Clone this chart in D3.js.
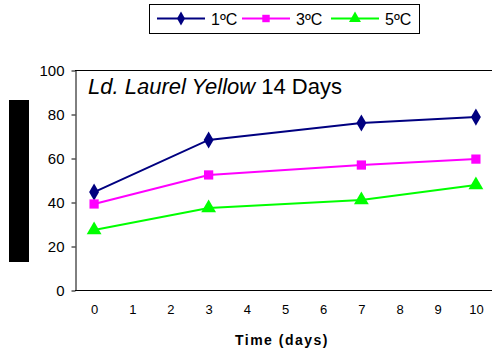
<!DOCTYPE html>
<html>
<head>
<meta charset="utf-8">
<script src="https://cdn.jsdelivr.net/npm/d3@7"></script>
<style>
  body { margin: 0; background: #fff; }
  text { font-family: Arial, "Liberation Sans", sans-serif; }
</style>
</head>
<body>
<div id="chart-area"></div>
<script>
// data
const days = [0, 3, 7, 10]
const tickDays = [0, 1, 2, 3, 4, 5, 6, 7, 8, 9, 10]
const yTicks = [0, 20, 40, 60, 80, 100]
const seriesNames = ["1ºC", "3ºC", "5ºC"]
const temp1 = [44.5, 68.2, 75.9, 78.6]
const temp3 = [39.1, 52.3, 56.8, 59.5]
const temp5 = [27.3, 37.3, 40.9, 47.7]

const colors = ["#000080", "#ff00ff", "#00ff00"]
const shapes = [d3.symbolDiamond, d3.symbolSquare, d3.symbolTriangle]
const sizes = [85, 85, 95]

const W = 492, H = 356
const plot = { left: 75, right: 495, top: 70, bottom: 290 }

const svg = d3.select("#chart-area")
	.append("svg")
		.attr("width", W)
		.attr("height", H)

const x = d3.scaleLinear()
	.domain([-0.5, 10.5])
	.range([plot.left, plot.right])

const y = d3.scaleLinear()
	.domain([0, 100])
	.range([plot.bottom, plot.top])

// frame lines (top, bottom)
svg.append("line")
	.attr("x1", plot.left).attr("x2", W)
	.attr("y1", plot.top + 0.5).attr("y2", plot.top + 0.5)
	.attr("stroke", "#000")
svg.append("line")
	.attr("x1", plot.left).attr("x2", W)
	.attr("y1", plot.bottom + 0.5).attr("y2", plot.bottom + 0.5)
	.attr("stroke", "#000")

// Y axis
const yAxisCall = d3.axisLeft(y)
	.tickValues(yTicks)
	.tickSize(4)
	.tickSizeOuter(0)
const yAxisGroup = svg.append("g")
	.attr("transform", `translate(${plot.left + 0.5}, 0.5)`)
	.call(yAxisCall)
yAxisGroup.selectAll("text")
	.attr("font-size", "15px")
	.attr("fill", "#000")
	.attr("x", -11)
	.attr("font-family", "Arial, 'Liberation Sans', sans-serif")

// X axis (labels only)
const xAxisCall = d3.axisBottom(x)
	.tickValues(tickDays)
	.tickSize(0)
	.tickSizeOuter(0)
const xAxisGroup = svg.append("g")
	.attr("transform", `translate(0, ${plot.bottom + 0.5})`)
	.call(xAxisCall)
xAxisGroup.select(".domain").remove()
xAxisGroup.selectAll("text")
	.attr("font-size", "13px")
	.attr("fill", "#000")
	.attr("y", 14)
	.attr("font-family", "Arial, 'Liberation Sans', sans-serif")

// X label
svg.append("text")
	.attr("x", 282)
	.attr("y", 345)
	.attr("text-anchor", "middle")
	.attr("font-size", "14px")
	.attr("font-weight", "bold")
	.attr("letter-spacing", "1.5px")
	.text("Time (days)")

// black block left of axis
svg.append("rect")
	.attr("x", 9).attr("y", 100)
	.attr("width", 20).attr("height", 162)
	.attr("fill", "#000")

// title
const title = svg.append("text")
	.attr("x", 88)
	.attr("y", 94)
	.attr("font-size", "22px")
title.append("tspan").attr("font-style", "italic").text("Ld. Laurel Yellow")
title.append("tspan").text(" 14 Days")

// lines and markers
const allSeries = [temp1, temp3, temp5]
const line = d3.line()
	.x((d, i) => x(days[i]))
	.y(d => y(d))

allSeries.forEach((vals, s) => {
	svg.append("path")
		.datum(vals)
		.attr("fill", "none")
		.attr("stroke", colors[s])
		.attr("stroke-width", 2)
		.attr("d", line)

	svg.selectAll(`.pt${s}`)
		.data(vals)
		.enter()
		.append("path")
		.attr("class", `pt${s}`)
		.attr("transform", (d, i) => `translate(${x(days[i])}, ${y(d)})`)
		.attr("d", d3.symbol().type(shapes[s]).size(sizes[s]))
		.attr("fill", colors[s])
})

// legend
const legend = svg.append("g")
svg.append("rect")
	.attr("x", 149.5).attr("y", 4.5)
	.attr("width", 270).attr("height", 29)
	.attr("fill", "none")
	.attr("stroke", "#000")

const legendX = [157, 242, 331]
seriesNames.forEach((name, s) => {
	const row = legend.append("g")
		.attr("transform", `translate(${legendX[s]}, 18.5)`)
	row.append("line")
		.attr("x1", 0).attr("x2", 48)
		.attr("stroke", colors[s])
		.attr("stroke-width", 2)
	row.append("path")
		.attr("transform", "translate(24, 0)")
		.attr("d", d3.symbol().type(shapes[s]).size(sizes[s] * 0.65))
		.attr("fill", colors[s])
	row.append("text")
		.attr("x", 54)
		.attr("y", 6)
		.attr("font-size", "16px")
		.text(name)
})
</script>
</body>
</html>
